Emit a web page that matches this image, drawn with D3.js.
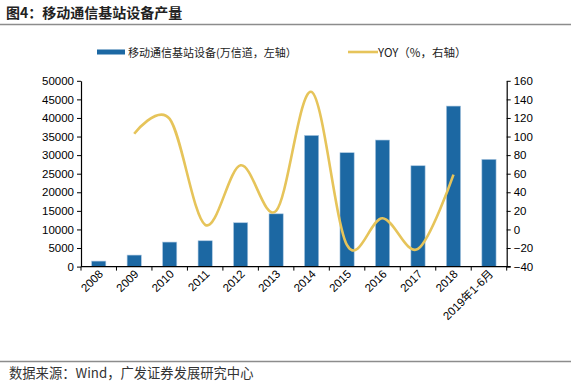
<!DOCTYPE html>
<html><head><meta charset="utf-8">
<script src="https://cdn.jsdelivr.net/npm/d3@7"></script>
<style>body{margin:0;background:#fff}svg{display:block}</style>
</head><body>
<svg id="c" width="571" height="385"></svg>
<script>
const categories = ["2008","2009","2010","2011","2012","2013","2014","2015","2016","2017","2018","2019年1-6月"];
const output = [1480,3100,6600,6950,11800,14200,35300,30650,34060,27140,43200,28860];
const yoy = [null,103,119,5,69,20,148,-17,12,-21,59,null];
const leftTicks = [0,5000,10000,15000,20000,25000,30000,35000,40000,45000,50000];
const rightTicks = [-40,-20,0,20,40,60,80,100,120,140,160];
const title = "图4：移动通信基站设备产量";
const source = "数据来源：Wind，广发证券发展研究中心";
const legendBar = "移动通信基站设备(万信道，左轴）";
const legendLine = "YOY（%，右轴）";

const svg = d3.select("#c");
const font = "'Liberation Sans', Arial, 'Noto Sans CJK SC', sans-serif";
const cjk = "'Noto Sans CJK SC', sans-serif";
const L = 81, R = 506.7, T = 80.8, B = 266.6;

svg.append("text").attr("x",6).attr("y",18).attr("font-family",cjk).attr("font-weight","bold")
  .attr("font-size",14).attr("fill","#222").text(title);
svg.append("line").attr("x1",0).attr("x2",571).attr("y1",24.5).attr("y2",24.5).attr("stroke","#8c8c8c").attr("stroke-width",1.5);
svg.append("line").attr("x1",0).attr("x2",571).attr("y1",361.5).attr("y2",361.5).attr("stroke","#8c8c8c").attr("stroke-width",1.5);
svg.append("text").attr("x",9).attr("y",377.5).attr("font-family",cjk).attr("font-size",13.3).attr("fill","#333").text(source);

const x = d3.scaleBand().domain(categories).range([L,R]).paddingInner(0.6).paddingOuter(0.3);
const xc = d3.scalePoint().domain(categories).range([L,R]).padding(0.5);
const yL = d3.scaleLinear().domain([0,50000]).range([B,T]);
const yR = d3.scaleLinear().domain([-40,160]).range([B,T]);

svg.append("g").selectAll("rect").data(output).join("rect")
  .attr("x",(d,i)=>x(categories[i])).attr("width",x.bandwidth())
  .attr("y",d=>yL(d)).attr("height",d=>B-yL(d))
  .attr("fill","#1c68a3").attr("stroke","#a9c6e0").attr("stroke-width",0.6);

const line = d3.line().defined(d=>d!=null).x((d,i)=>xc(categories[i])).y(d=>yR(d)).curve(d3.curveCardinal.tension(0));
svg.append("path").datum(yoy).attr("d",line).attr("fill","none").attr("stroke","#e6c45a").attr("stroke-width",2.6);

// axes
const gl = svg.append("g").attr("transform",`translate(${L},0)`)
  .call(d3.axisLeft(yL).tickValues(leftTicks).tickSize(4).tickSizeOuter(0).tickFormat(d3.format("d")));
const gr = svg.append("g").attr("transform",`translate(${R},0)`)
  .call(d3.axisRight(yR).tickValues(rightTicks).tickSize(4).tickSizeOuter(0).tickFormat(d3.format("d")));
// x axis with ticks at band boundaries
const step = (R-L)/categories.length;
const gx = svg.append("g");
gx.append("line").attr("x1",L).attr("x2",R+4).attr("y1",B).attr("y2",B).attr("stroke","#000").attr("stroke-width",1.2);
gx.selectAll("line.t").data(d3.range(categories.length+1)).join("line").attr("class","t")
  .attr("x1",i=>L+i*step).attr("x2",i=>L+i*step).attr("y1",B).attr("y2",B+4).attr("stroke","#000");
gx.selectAll("text").data(categories).join("text")
  .attr("transform",d=>`translate(${xc(d)+5},${B+8}) rotate(-45)`)
  .attr("text-anchor","end").attr("font-family",font).attr("font-size",11.5).attr("fill","#000").text(d=>d);

[gl,gr].forEach(g=>{
  g.select(".domain").attr("stroke","#000").attr("stroke-width",1.2);
  g.selectAll(".tick line").attr("stroke","#000");
  g.selectAll("text").attr("font-family",font).attr("font-size",11.5).attr("fill","#000");
});

// legend
svg.append("rect").attr("x",97).attr("y",49.5).attr("width",28).attr("height",5).attr("fill","#1c68a3");
svg.append("text").attr("x",128).attr("y",56.5).attr("font-family",cjk).attr("font-size",11).attr("fill","#222").text(legendBar);
svg.append("line").attr("x1",348).attr("x2",378).attr("y1",52).attr("y2",52).attr("stroke","#e6c45a").attr("stroke-width",2.6);
svg.append("text").attr("x",378).attr("y",57).attr("font-family",cjk).attr("font-size",11.5).attr("fill","#222").text(legendLine);
</script>
</body></html>
